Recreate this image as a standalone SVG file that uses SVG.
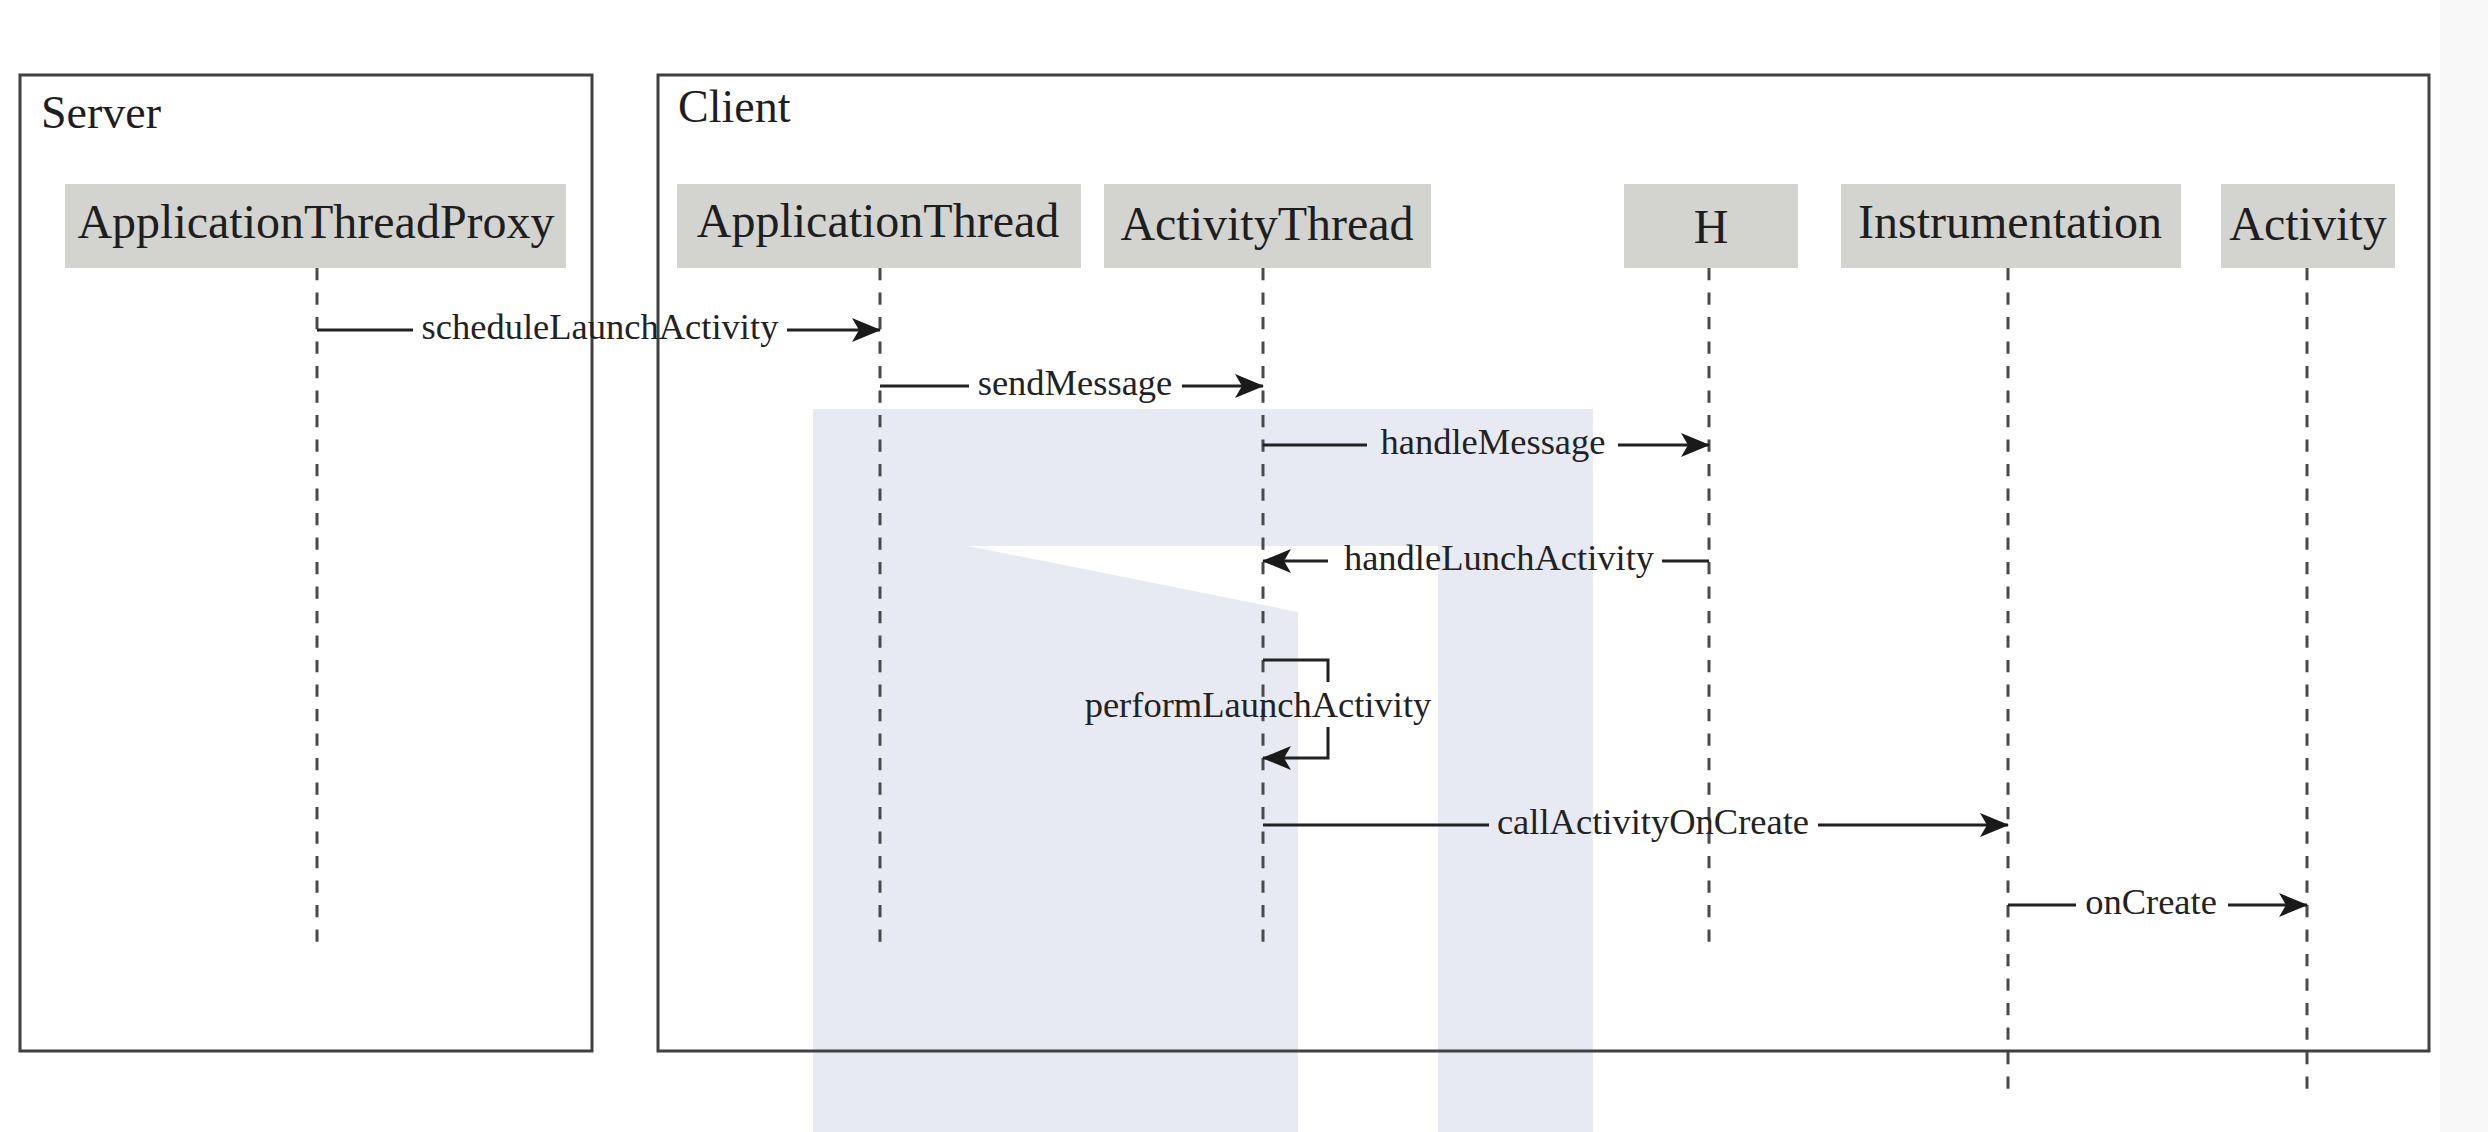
<svg xmlns="http://www.w3.org/2000/svg" width="2488" height="1132" viewBox="0 0 2488 1132">
  <style>
    .frame { fill: none; stroke: #404040; stroke-width: 3; }
    .frame-label { font-family: "Liberation Serif", "Times New Roman", serif; font-size: 46px; fill: #1e1e1e; }
    .part-box { fill: #d3d3d0; }
    .part-label { font-family: "Liberation Serif", "Times New Roman", serif; font-size: 48px; fill: #1e1e1e; text-anchor: middle; }
    .lifeline { stroke: #4a4a4a; stroke-width: 3; stroke-dasharray: 12.25 12.25; fill: none; }
    .msg { stroke: #222; stroke-width: 3; fill: none; }
    .msg-label { font-family: "Liberation Serif", "Times New Roman", serif; font-size: 36.5px; fill: #222; text-anchor: middle; }
  </style>
  <defs>
    <marker id="arrow" viewBox="-30 -14 32 28" refX="0" refY="0" markerWidth="32" markerHeight="28" markerUnits="userSpaceOnUse" orient="auto">
      <path d="M1,0 L-28,-12 L-21,0 L-28,12 Z" fill="#1a1a1a"/>
    </marker>
  </defs>

  <rect width="2488" height="1132" fill="#ffffff"/>
  <rect x="2440" y="0" width="48" height="1132" fill="#f8f8f8"/>

  <!-- pale background emblem -->
  <g id="emblem" fill="#e7eaf2">
    <path d="M813,409 H1593 V1132 H1438 V546 H1298 V1132 H813 Z"/>
    <path d="M968,546 L1298,546 L1298,612 Z" fill="#ffffff"/>
  </g>

  <!-- frames -->
  <g id="server">
    <rect class="frame" x="20" y="75" width="572" height="976"/>
    <text class="frame-label" x="41" y="128">Server</text>
  </g>
  <g id="client">
    <rect class="frame" x="658" y="75" width="1771" height="976"/>
    <text class="frame-label" x="678" y="122">Client</text>
  </g>

  <!-- participants -->
  <g id="applicationThreadProxy">
    <rect class="part-box" x="65" y="184" width="501" height="84"/>
    <text class="part-label" x="316" y="238">ApplicationThreadProxy</text>
  </g>
  <g id="applicationThread">
    <rect class="part-box" x="677" y="184" width="404" height="84"/>
    <text class="part-label" x="878" y="237">ApplicationThread</text>
  </g>
  <g id="activityThread">
    <rect class="part-box" x="1104" y="184" width="327" height="84"/>
    <text class="part-label" x="1267" y="240">ActivityThread</text>
  </g>
  <g id="h">
    <rect class="part-box" x="1624" y="184" width="174" height="84"/>
    <text class="part-label" x="1711" y="243">H</text>
  </g>
  <g id="instrumentation">
    <rect class="part-box" x="1841" y="184" width="340" height="84"/>
    <text class="part-label" x="2010" y="238">Instrumentation</text>
  </g>
  <g id="activity">
    <rect class="part-box" x="2221" y="184" width="174" height="84"/>
    <text class="part-label" x="2308" y="240">Activity</text>
  </g>

  <!-- lifelines -->
  <g id="lifelines">
    <line class="lifeline" x1="317" y1="268" x2="317" y2="942"/>
    <line class="lifeline" x1="880" y1="268" x2="880" y2="942"/>
    <line class="lifeline" x1="1263" y1="268" x2="1263" y2="942"/>
    <line class="lifeline" x1="1709" y1="268" x2="1709" y2="942"/>
    <line class="lifeline" x1="2008" y1="268" x2="2008" y2="1089"/>
    <line class="lifeline" x1="2307" y1="268" x2="2307" y2="1089"/>
  </g>

  <!-- messages -->
  <g id="connectors">
    <line class="msg" x1="317" y1="330" x2="413" y2="330"/>
    <line class="msg" x1="787" y1="330" x2="880" y2="330" marker-end="url(#arrow)"/>
    <text class="msg-label" x="600" y="339">scheduleLaunchActivity</text>

    <line class="msg" x1="880" y1="386" x2="969" y2="386"/>
    <line class="msg" x1="1182" y1="386" x2="1263" y2="386" marker-end="url(#arrow)"/>
    <text class="msg-label" x="1075" y="395">sendMessage</text>

    <line class="msg" x1="1263" y1="445" x2="1367" y2="445"/>
    <line class="msg" x1="1618" y1="445" x2="1709" y2="445" marker-end="url(#arrow)"/>
    <text class="msg-label" x="1493" y="454">handleMessage</text>

    <line class="msg" x1="1709" y1="561" x2="1662" y2="561"/>
    <line class="msg" x1="1328" y1="561" x2="1263" y2="561" marker-end="url(#arrow)"/>
    <text class="msg-label" x="1499" y="570">handleLunchActivity</text>

    <path class="msg" d="M1263,660 H1328 V682"/>
    <path class="msg" d="M1328,727 V758 H1263" marker-end="url(#arrow)"/>
    <text class="msg-label" x="1258" y="717">performLaunchActivity</text>

    <line class="msg" x1="1263" y1="825" x2="1489" y2="825"/>
    <line class="msg" x1="1818" y1="825" x2="2008" y2="825" marker-end="url(#arrow)"/>
    <text class="msg-label" x="1653" y="834">callActivityOnCreate</text>

    <line class="msg" x1="2008" y1="905" x2="2076" y2="905"/>
    <line class="msg" x1="2228" y1="905" x2="2307" y2="905" marker-end="url(#arrow)"/>
    <text class="msg-label" x="2151" y="914">onCreate</text>
  </g>
</svg>
